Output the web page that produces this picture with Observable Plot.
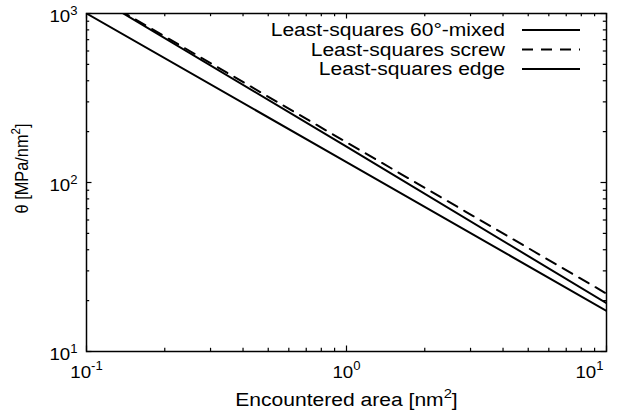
<!DOCTYPE html>
<html><head><meta charset="utf-8">
<script src="https://cdn.jsdelivr.net/npm/d3@7"></script>
<script src="https://cdn.jsdelivr.net/npm/@observablehq/plot@0.6"></script>
<style>
body{margin:0;background:#fff;}
</style></head><body>
<div id="chart"></div>
<script>
// ---- data ----
const areas = [0.1, 1, 10];
const mixed = [1350, 163, 19.3];
const screw = [1361, 173, 22.0];
const edge  = [1000, 132, 17.4];
const seriesNames = ["Least-squares 60°-mixed", "Least-squares screw", "Least-squares edge"];
const seriesDash = [null, "11,8", null];
const xMajor = [0.1, 1, 10];
const xMinor = [0.2, 0.3, 0.4, 0.5, 0.6, 0.7, 0.8, 0.9, 2, 3, 4, 5, 6, 7, 8, 9];
const yMajor = [10, 100, 1000];
const yMinor = [20, 30, 40, 50, 60, 70, 80, 90, 200, 300, 400, 500, 600, 700, 800, 900];
const xTickLabels = ["10^-1", "10^0", "10^1"];
const yTickLabels = ["10^1", "10^2", "10^3"];
const xLabel = "Encountered area [nm^2]";
const yLabel = "θ [MPa/nm^2]";

const seriesValues = [mixed, screw, edge];
const rows = seriesValues.flatMap((vals, s) => areas.map((a, i) => ({area: a, theta: vals[i], s})));

const W = 621, H = 420, mT = 13, mB = 69, mL = 86, mR = 15;
const innerW = W - mL - mR, innerH = H - mT - mB;
const majLen = 5.5, minLen = 3.2;
const TK = 17;
const YL = 19;

function legend(index, scales, values, dims) {
  const g = d3.create("svg:g").attr("aria-label", "legend");
  const right = dims.width - dims.marginRight;
  const top = dims.marginTop;
  seriesNames.forEach((name, i) => {
    const y = top + 17 + i * 19.5;
    g.append("text").attr("class", "legtext").attr("x", right - 101).attr("y", y).attr("dy", "0.35em")
      .attr("text-anchor", "end").attr("font-size", 18).attr("fill", "black").text(name);
    const ln = g.append("line").attr("x1", right - 84).attr("x2", right - 26).attr("y1", y).attr("y2", y)
      .attr("stroke", "black").attr("stroke-width", 2);
    if (seriesDash[i]) ln.attr("stroke-dasharray", seriesDash[i]);
  });
  return g.node();
}

const chart = Plot.plot({
  width: W, height: H,
  marginTop: mT, marginBottom: mB, marginLeft: mL, marginRight: mR,
  style: {fontFamily: '"Liberation Sans", Arial, Helvetica, sans-serif', fontSize: "17px", background: "white", color: "black"},
  x: {type: "log", domain: [0.1, 10]},
  y: {type: "log", domain: [10, 1000]},
  marks: [
    // ticks (inward, mirrored)
    Plot.ruleX(xMajor, {x: d => d, insetTop: innerH - majLen, stroke: "black", strokeWidth: 1.2}),
    Plot.ruleX(xMinor, {x: d => d, insetTop: innerH - minLen, stroke: "black", strokeWidth: 1.2}),
    Plot.ruleX(xMajor, {x: d => d, insetBottom: innerH - majLen, stroke: "black", strokeWidth: 1.2}),
    Plot.ruleX(xMinor, {x: d => d, insetBottom: innerH - minLen, stroke: "black", strokeWidth: 1.2}),
    Plot.ruleY(yMajor, {y: d => d, insetRight: innerW - majLen, stroke: "black", strokeWidth: 1.2}),
    Plot.ruleY(yMinor, {y: d => d, insetRight: innerW - minLen, stroke: "black", strokeWidth: 1.2}),
    Plot.ruleY(yMajor, {y: d => d, insetLeft: innerW - majLen, stroke: "black", strokeWidth: 1.2}),
    Plot.ruleY(yMinor, {y: d => d, insetLeft: innerW - minLen, stroke: "black", strokeWidth: 1.2}),
    // data lines
    Plot.line(rows.filter(d => d.s === 0), {x: "area", y: "theta", stroke: "black", strokeWidth: 2, clip: true}),
    Plot.line(rows.filter(d => d.s === 1), {x: "area", y: "theta", stroke: "black", strokeWidth: 2, strokeDasharray: "11,8", clip: true}),
    Plot.line(rows.filter(d => d.s === 2), {x: "area", y: "theta", stroke: "black", strokeWidth: 2, clip: true}),
    Plot.frame({stroke: "black", strokeWidth: 1.5}),
    // axes
    Plot.axisX({ticks: xMajor.slice(0, 2), tickSize: 0, tickPadding: 14, fontSize: TK, label: null,
      tickFormat: d => xTickLabels[xMajor.indexOf(d)]}),
    Plot.axisX({ticks: xMajor.slice(2), tickSize: 0, tickPadding: 14, fontSize: TK, label: null, textAnchor: "end", dx: -3,
      tickFormat: d => xTickLabels[xMajor.indexOf(d)]}),
    Plot.axisY({ticks: yMajor, tickSize: 0, tickPadding: 9, fontSize: TK, label: null, dy: 3.5,
      tickFormat: d => yTickLabels[yMajor.indexOf(d)]}),
    Plot.text([xLabel], {frameAnchor: "bottom", text: d => d, textAnchor: "middle", lineAnchor: "bottom", dy: 54, fontSize: 18, fill: "black"}),
    Plot.text([yLabel], {frameAnchor: "left", text: d => d, textAnchor: "middle", rotate: -90, dx: -64.5, dy: -14, fontSize: YL, fill: "black"}),
    legend
  ]
});

document.getElementById("chart").append(chart);

const ns = "http://www.w3.org/2000/svg";
// superscripts
function supify(el, F) {
  const m = el.textContent.match(/^(.*)\^(-?\d+)(.*)$/);
  if (!m) return;
  el.textContent = "";
  const a = document.createElementNS(ns, "tspan"); a.textContent = m[1]; el.appendChild(a);
  const b = document.createElementNS(ns, "tspan"); b.textContent = m[2];
  b.setAttribute("font-size", (0.7 * F).toFixed(1)); b.setAttribute("dy", (-0.42 * F).toFixed(1)); el.appendChild(b);
  if (m[3]) {
    const c = document.createElementNS(ns, "tspan"); c.textContent = m[3];
    c.setAttribute("dy", (0.42 * F).toFixed(1)); el.appendChild(c);
  }
}
// horizontal stretch to mimic the reference's wide lettering
function stretch(el, k) {
  const L = el.getComputedTextLength();
  el.setAttribute("textLength", (L * k).toFixed(1));
  el.setAttribute("lengthAdjust", "spacingAndGlyphs");
}
chart.querySelectorAll("text").forEach(t => {
  const s = t.textContent;
  if (xTickLabels.includes(s) || yTickLabels.includes(s)) { supify(t, TK); stretch(t, 1.1); }
  else if (s === xLabel) { supify(t, 18); stretch(t, 1.17); }
  else if (s === yLabel) { supify(t, YL); stretch(t, 0.86); }
  else if (t.classList.contains("legtext")) { stretch(t, 1.17); }
});
</script>
</body></html>
